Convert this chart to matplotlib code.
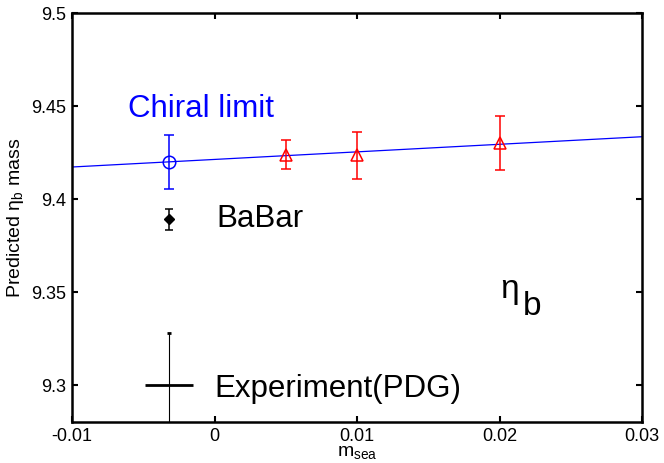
import matplotlib
matplotlib.use("Agg")
import matplotlib.pyplot as plt

plt.rcParams['font.family'] = ['Liberation Sans', 'DejaVu Sans']
plt.rcParams['mathtext.fontset'] = 'custom'
plt.rcParams['mathtext.rm'] = 'Liberation Sans'
plt.rcParams['mathtext.it'] = 'Liberation Sans:italic'

# chiral limit (extrapolated)
chiral_x = [-0.0032]
chiral_y = [9.4198]
chiral_err = [0.0144]

# lattice points at finite sea mass
sea_m = [0.005, 0.01, 0.02]
sea_y = [9.4237, 9.4234, 9.4300]
sea_err = [0.0079, 0.0125, 0.0145]

# linear fit line
fit_x = [-0.01, 0.03]
fit_y = [9.4171, 9.4334]

# BaBar
babar_x = [-0.0032]
babar_y = [9.3889]
babar_err = [0.0058]

# Experiment (PDG)
pdg_x = [-0.0032]
pdg_y = [9.300]
pdg_err = [0.028]

fig = plt.figure(figsize=(6.64, 4.64), dpi=100)
ax = fig.add_axes([72 / 664, 41.3 / 464, 570 / 664, 408.7 / 464])

ax.plot(fit_x, fit_y, color='blue', lw=0.9)
ax.errorbar(chiral_x, chiral_y, yerr=chiral_err, fmt='o', mfc='none', mec='blue',
            ecolor='blue', ms=9, mew=1.1, elinewidth=1.1, capsize=3.5, capthick=1.1)
ax.errorbar(sea_m, sea_y, yerr=sea_err, fmt='^', mfc='none', mec='red',
            ecolor='red', ms=8, mew=1.1, elinewidth=1.1, capsize=3.5, capthick=1.1)
ax.errorbar(babar_x, babar_y, yerr=babar_err, fmt='D', color='black', ms=5,
            elinewidth=1.1, capsize=3, capthick=1.1)
ax.errorbar(pdg_x, pdg_y, yerr=pdg_err, fmt='_', color='black', ms=34, mew=2,
            elinewidth=0.8, capsize=1.5, capthick=0.8)

ax.text(-0.00605, 9.4447, 'Chiral limit', color='blue', fontsize=22.5)
ax.text(0.00015, 9.3852, 'BaBar', color='black', fontsize=22.5)
ax.text(0.0, 9.2937, 'Experiment(PDG)', color='black', fontsize=22.5)
ax.text(0.02004, 9.3471, '\u03b7', color='black', fontsize=24)
ax.text(0.02165, 9.338, 'b', color='black', fontsize=24)

ax.set_xlim(-0.01, 0.03)
ax.set_ylim(9.28, 9.5)
ax.set_xticks([-0.01, 0, 0.01, 0.02, 0.03])
ax.set_xticklabels(['-0.01', '0', '0.01', '0.02', '0.03'])
ax.set_yticks([9.3, 9.35, 9.4, 9.45, 9.5])
ax.set_yticklabels(['9.3', '9.35', '9.4', '9.45', '9.5'])
ax.tick_params(direction='in', top=True, right=True, length=4, width=1.5,
               labelsize=13, pad=4)
for s in ax.spines.values():
    s.set_linewidth(1.8)

ax.set_xlabel(r'm$_{\mathrm{sea}}$', fontsize=14, labelpad=-1)
ax.set_ylabel(r'Predicted $\mathrm{\eta_b}$ mass', fontsize=14, labelpad=4)

fig.savefig('out.png', dpi=100)
